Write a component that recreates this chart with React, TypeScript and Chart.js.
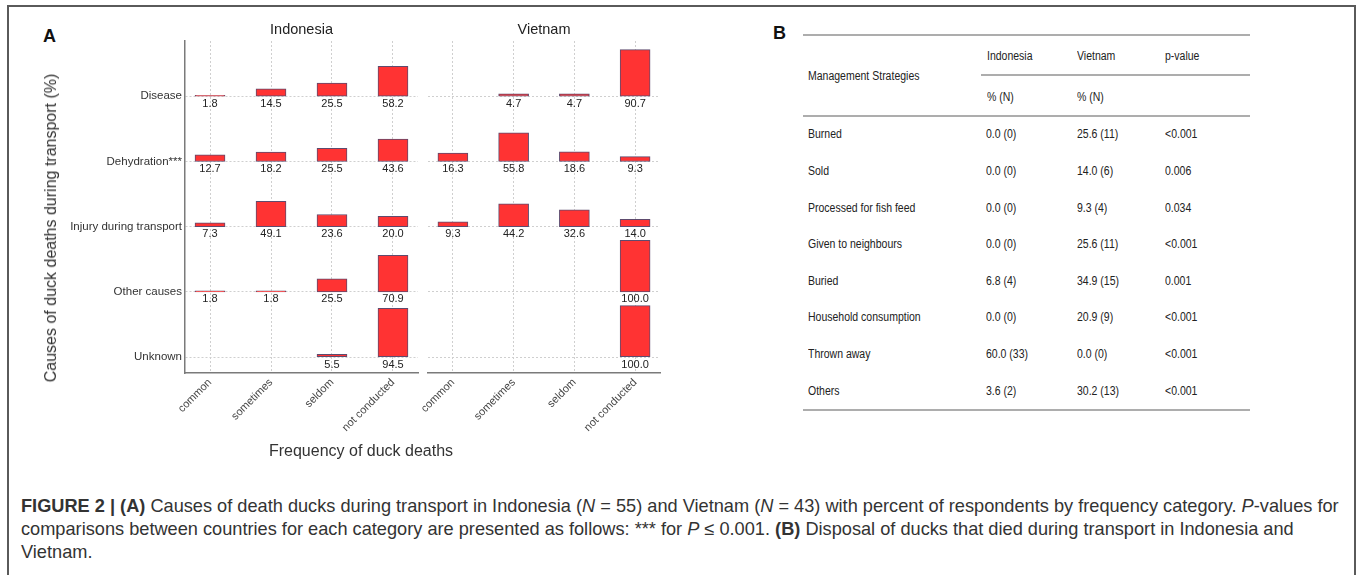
import React, { useEffect, useRef } from "react";
import { Chart, registerables } from "chart.js";

Chart.register(...registerables);

const FONT = "'Liberation Sans', Arial, Helvetica, sans-serif";

// ---------- Panel A data ----------
const CAUSES = ["Disease", "Dehydration***", "Injury during transport", "Other causes", "Unknown"];
const FREQUENCIES = ["common", "sometimes", "seldom", "not conducted"];

const INDONESIA_DISEASE = [1.8, 14.5, 25.5, 58.2];
const INDONESIA_DEHYDRATION = [12.7, 18.2, 25.5, 43.6];
const INDONESIA_INJURY = [7.3, 49.1, 23.6, 20.0];
const INDONESIA_OTHER = [1.8, 1.8, 25.5, 70.9];
const INDONESIA_UNKNOWN = [null, null, 5.5, 94.5];

const VIETNAM_DISEASE = [null, 4.7, 4.7, 90.7];
const VIETNAM_DEHYDRATION = [16.3, 55.8, 18.6, 9.3];
const VIETNAM_INJURY = [9.3, 44.2, 32.6, 14.0];
const VIETNAM_OTHER = [null, null, null, 100.0];
const VIETNAM_UNKNOWN = [null, null, null, 100.0];

const INDONESIA_ROWS = [INDONESIA_DISEASE, INDONESIA_DEHYDRATION, INDONESIA_INJURY, INDONESIA_OTHER, INDONESIA_UNKNOWN];
const VIETNAM_ROWS = [VIETNAM_DISEASE, VIETNAM_DEHYDRATION, VIETNAM_INJURY, VIETNAM_OTHER, VIETNAM_UNKNOWN];

// ---------- Panel B data ----------
const STRATEGIES = [
  "Burned",
  "Sold",
  "Processed for fish feed",
  "Given to neighbours",
  "Buried",
  "Household consumption",
  "Thrown away",
  "Others",
];
const INDONESIA_PCT = [0.0, 0.0, 0.0, 0.0, 6.8, 0.0, 60.0, 3.6];
const INDONESIA_N = [0, 0, 0, 0, 4, 0, 33, 2];
const VIETNAM_PCT = [25.6, 14.0, 9.3, 25.6, 34.9, 20.9, 0.0, 30.2];
const VIETNAM_N = [11, 6, 4, 11, 15, 9, 0, 13];
const P_VALUES = ["<0.001", "0.006", "0.034", "<0.001", "0.001", "<0.001", "<0.001", "<0.001"];

// ---------- layout constants ----------
const ROW_STEP = 126.7; // y-units between row baselines (1 unit = 1 %)
const Y_MIN = -31;
const Y_MAX = 4 * ROW_STEP + 107.4;
const X_MIN = 0.59;
const X_MAX = 4.41;

function rowBase(i: number) {
  return (CAUSES.length - 1 - i) * ROW_STEP;
}

function buildConfig(
  title: string,
  rows: (number | null)[][],
  showYAxis: boolean,
  yAxisWidth: number,
  padRight: number
): any {
  const data: any[] = [];
  rows.forEach((row, i) => {
    row.forEach((v, j) => {
      if (v == null) return;
      data.push({ x: j + 1, y: [rowBase(i), rowBase(i) + v] });
    });
  });

  const decor = {
    id: "panelDecor",
    afterDatasetsDraw(chart: any) {
      const { ctx, chartArea, scales } = chart;
      const xs = scales.x;
      const ys = scales.y;
      ctx.save();
      ctx.fillStyle = "#222";
      ctx.font = `11px ${FONT}`;
      ctx.textAlign = "center";
      ctx.textBaseline = "top";
      rows.forEach((row, i) => {
        row.forEach((v, j) => {
          if (v == null) return;
          ctx.fillText(v.toFixed(1), xs.getPixelForValue(j + 1), ys.getPixelForValue(rowBase(i)) + 2);
        });
      });
      ctx.font = `14.5px ${FONT}`;
      ctx.textBaseline = "middle";
      ctx.fillStyle = "#222";
      ctx.fillText(title, (chartArea.left + chartArea.right) / 2, 30);
      ctx.restore();
    },
  };

  return {
    type: "bar",
    data: {
      datasets: [
        {
          data,
          backgroundColor: "#FF3333",
          borderColor: "#5e4b6e",
          borderWidth: 1,
          borderSkipped: false,
          barThickness: 30,
        },
      ],
    },
    plugins: [decor],
    options: {
      responsive: false,
      animation: false,
      events: [],
      layout: { padding: { top: 41, right: padRight, bottom: 0, left: 0 } },
      plugins: {
        legend: { display: false },
        tooltip: { enabled: false },
        title: { display: false },
      },
      scales: {
        x: {
          type: "linear",
          offset: false,
          min: X_MIN,
          max: X_MAX,
          afterBuildTicks: (scale: any) => {
            scale.ticks = FREQUENCIES.map((_, k) => ({ value: k + 1 }));
          },
          afterFit: (scale: any) => {
            scale.height = 97;
          },
          ticks: {
            autoSkip: false,
            minRotation: 45,
            maxRotation: 45,
            padding: 3,
            color: "#444",
            font: { family: FONT, size: 11 },
            callback: (value: number) => FREQUENCIES[Math.round(value) - 1] ?? "",
          },
          grid: { color: "#cfcfcf", lineWidth: 1, drawTicks: false, offset: false },
          border: { display: true, color: "#7a7a7a", width: 1.5, dash: [2, 2] },
        },
        y: {
          type: "linear",
          min: Y_MIN,
          max: Y_MAX,
          afterBuildTicks: (scale: any) => {
            scale.ticks = CAUSES.map((_, i) => ({ value: rowBase(CAUSES.length - 1 - i) }));
          },
          afterFit: (scale: any) => {
            scale.width = yAxisWidth;
          },
          ticks: {
            display: showYAxis,
            autoSkip: false,
            padding: 3,
            color: "#333",
            font: { family: FONT, size: 11.5 },
            callback: (value: number) => CAUSES[CAUSES.length - 1 - Math.round(value / ROW_STEP)] ?? "",
          },
          grid: { color: "#cfcfcf", lineWidth: 1, drawTicks: false },
          border: { display: showYAxis, color: "#7a7a7a", width: 1.5, dash: [2, 2] },
        },
      },
    },
  };
}

function Panel(props: {
  left: number;
  width: number;
  title: string;
  rows: (number | null)[][];
  showYAxis: boolean;
  yAxisWidth: number;
  padRight: number;
}) {
  const ref = useRef<HTMLCanvasElement | null>(null);
  useEffect(() => {
    if (!ref.current) return;
    const chart = new Chart(
      ref.current,
      buildConfig(props.title, props.rows, props.showYAxis, props.yAxisWidth, props.padRight)
    );
    return () => chart.destroy();
  }, []);
  return (
    <div style={{ position: "absolute", left: props.left, top: 0, width: props.width, height: 470 }}>
      <canvas ref={ref} width={props.width} height={470} style={{ width: props.width, height: 470, display: "block" }} />
    </div>
  );
}

const abs = (left: number, top: number, extra: any = {}) => ({
  position: "absolute" as const,
  left,
  top,
  whiteSpace: "nowrap" as const,
  ...extra,
});

function Rule(props: { x1: number; x2: number; y: number }) {
  return (
    <div
      style={{
        position: "absolute",
        left: props.x1,
        top: props.y - 1,
        width: props.x2 - props.x1,
        height: 2,
        background: "#adadad",
      }}
    />
  );
}

function Cell(props: { x: number; y: number; text: string }) {
  return (
    <div
      style={abs(props.x, props.y - 8, {
        height: 16,
        lineHeight: "16px",
        fontSize: 12.5,
        color: "#222",
        transform: "scaleX(0.84)",
        transformOrigin: "left center",
      })}
    >
      {props.text}
    </div>
  );
}

export default function App() {
  const rowY = (i: number) => 134.3 + i * 36.6;
  const capLine = { fontSize: 18.2, lineHeight: "23px", color: "#333" };
  return (
    <div
      style={{
        position: "absolute",
        left: 0,
        top: 0,
        width: 1360,
        height: 575,
        overflow: "hidden",
        background: "#fff",
        fontFamily: FONT,
      }}
    >
      {/* frame */}
      <div
        style={{
          position: "absolute",
          left: 7,
          top: 5,
          width: 1349,
          height: 620,
          boxSizing: "border-box",
          borderTop: "2px solid #5a5a5a",
          borderLeft: "2px solid #5a5a5a",
          borderRight: "2px solid #5a5a5a",
        }}
      />

      {/* Panel A */}
      <div style={abs(43, 24, { fontSize: 18, fontWeight: "bold", color: "#111", lineHeight: "24px" })}>A</div>
      <Panel left={0} width={430} title="Indonesia" rows={INDONESIA_ROWS} showYAxis={true} yAxisWidth={185} padRight={12} />
      <Panel left={390} width={290} title="Vietnam" rows={VIETNAM_ROWS} showYAxis={false} yAxisWidth={38} padRight={20} />
      <div
        style={abs(51, 228, {
          transform: "translate(-50%, -50%) rotate(-90deg)",
          fontSize: 16,
          color: "#333",
          lineHeight: "20px",
        })}
      >
        Causes of duck deaths during transport (%)
      </div>
      <div style={abs(361, 451, { transform: "translate(-50%, -50%)", fontSize: 16, color: "#333", lineHeight: "20px" })}>
        Frequency of duck deaths
      </div>

      {/* Panel B */}
      <div style={abs(773, 21, { fontSize: 18, fontWeight: "bold", color: "#111", lineHeight: "24px" })}>B</div>
      <Rule x1={803} x2={1250} y={35} />
      <Rule x1={981} x2={1250} y={75} />
      <Rule x1={803} x2={1250} y={116} />
      <Rule x1={803} x2={1250} y={410} />
      <Cell x={808} y={76} text="Management Strategies" />
      <Cell x={987} y={56} text="Indonesia" />
      <Cell x={1077} y={56} text="Vietnam" />
      <Cell x={1165} y={56} text="p-value" />
      <Cell x={987} y={97} text="% (N)" />
      <Cell x={1077} y={97} text="% (N)" />
      {STRATEGIES.map((s, i) => (
        <React.Fragment key={s}>
          <Cell x={808} y={rowY(i)} text={s} />
          <Cell x={986} y={rowY(i)} text={`${INDONESIA_PCT[i].toFixed(1)} (${INDONESIA_N[i]})`} />
          <Cell x={1077} y={rowY(i)} text={`${VIETNAM_PCT[i].toFixed(1)} (${VIETNAM_N[i]})`} />
          <Cell x={1165} y={rowY(i)} text={P_VALUES[i]} />
        </React.Fragment>
      ))}

      {/* Caption */}
      <div style={abs(21, 494.5, capLine)}>
        <b>FIGURE 2 | (A)</b> Causes of death ducks during transport in Indonesia (<i>N</i> = 55) and Vietnam (<i>N</i> = 43)
        with percent of respondents by frequency category. <i>P</i>-values for
      </div>
      <div style={abs(21, 517.5, capLine)}>
        comparisons between countries for each category are presented as follows: *** for <i>P</i> ≤ 0.001.{" "}
        <b>(B)</b> Disposal of ducks that died during transport in Indonesia and
      </div>
      <div style={abs(21, 540.5, capLine)}>Vietnam.</div>
    </div>
  );
}
